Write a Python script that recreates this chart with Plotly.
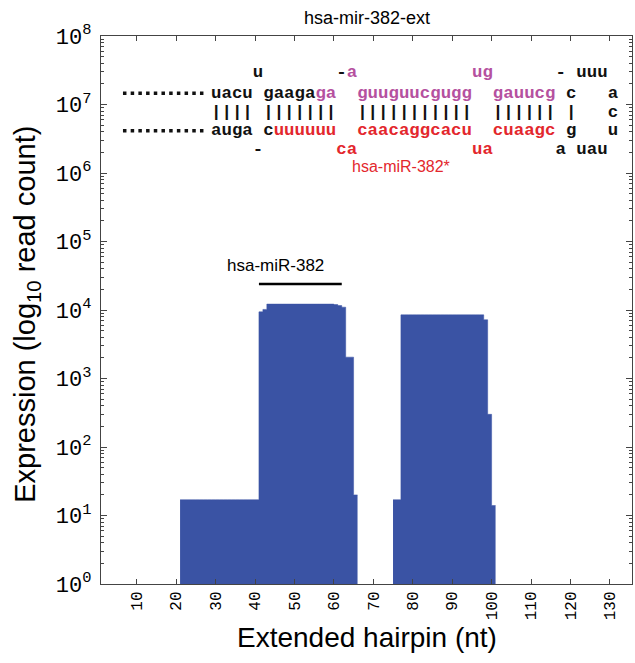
import plotly.graph_objects as go

# ---- read coverage per nucleotide of the extended hairpin ----
pos_5p = list(range(21, 66))
counts_5p = [17, 17, 17, 17, 17, 17, 17, 17, 17, 17,
             17, 17, 17, 17, 17, 17, 17, 17, 17, 17,
             9400, 10200,
             12200, 12200, 12200, 12200, 12200, 12200, 12200, 12200, 12200,
             12200, 12200, 12200, 12200, 12200, 12200, 12200, 12200,
             12000, 11600, 11000,
             2050, 2050,
             20]

pos_3p = list(range(75, 101))
counts_3p = [17, 17,
             8500, 8500, 8500, 8500, 8500, 8500, 8500, 8500, 8500, 8500, 8500,
             8500, 8500, 8500, 8500, 8500, 8500, 8500, 8500, 8500, 8500,
             7200, 300, 14]

# mature miRNA span (first and last nucleotide)
mature_name = "hsa-miR-382"
mature_span = [41, 62]
mature_level = 24000
star_name = "hsa-miR-382*"

title_text = "hsa-mir-382-ext"
x_ticks = [10, 20, 30, 40, 50, 60, 70, 80, 90, 100, 110, 120, 130]
y_exponents = [0, 1, 2, 3, 4, 5, 6, 7, 8]

# secondary structure (one string per row) and colour code per character
# k = plain, p = mature strand, r = star strand
hairpin_rows = [
    "    u       -a           ug      - uuu",
    "uacu gaagaga  guuguucgugg  gauucg c   a",
    "|||| |||||||  |||||||||||  |||||| |   c",
    "auga cuuuuuu  caacaggcacu  cuaagc g   u",
    "    -       ca           ua      a uau",
]
hairpin_colours = [
    "    k       kp           pp      k kkk",
    "kkkk kkkkkpp  ppppppppppp  pppppp k   k",
    "kkkk kkkkkkk  kkkkkkkkkkk  kkkkkk k   k",
    "kkkk krrrrrr  rrrrrrrrrrr  rrrrrr k   k",
    "    k       rr           rr      k kkk",
]

# ---- styling ----
BAR = "#3a53a4"
PALETTE = {"k": "#111111", "p": "#b5519f", "r": "#e3272d"}
MONO = "Courier New, Liberation Mono, monospace"
SANS = "Liberation Sans, Arial, Helvetica, sans-serif"
FRAME = "#444444"

fig = go.Figure()

# coverage drawn as filled steps: each nucleotide holds its count up to the next one
for xs, ys in ((pos_5p, counts_5p), (pos_3p, counts_3p)):
    step_x = xs + [xs[-1] + 1]
    step_y = ys + [ys[-1]]
    fig.add_trace(go.Scatter(
        x=step_x, y=step_y, mode="lines", line=dict(shape="hv", color=BAR, width=0.5),
        fill="tozeroy", fillcolor=BAR, showlegend=False, hoverinfo="x+y",
    ))

fig.add_trace(go.Scatter(
    x=mature_span, y=[mature_level, mature_level], mode="lines",
    line=dict(color="black", width=2.5), showlegend=False, hoverinfo="skip",
))


def coloured_row(text, mask):
    out = []
    for ch, code in zip(text, mask):
        if ch == " ":
            out.append("\u00a0")
        else:
            out.append(f"<span style='color:{PALETTE[code]}'>{ch}</span>")
    return "".join(out)


annotations = []
row_y = [0.9335, 0.8955, 0.8610, 0.8270, 0.7925]
for text, mask, yy in zip(hairpin_rows, hairpin_colours, row_y):
    annotations.append(dict(
        x=28.4, xref="x", y=yy, yref="paper", xanchor="left", yanchor="middle",
        text=coloured_row(text, mask), showarrow=False,
        font=dict(family=MONO, size=17.4, color="#111111", weight="bold"),
    ))

annotations += [
    dict(x=77.0, xref="x", y=0.7615, yref="paper", xanchor="center", yanchor="middle",
         text=star_name, showarrow=False,
         font=dict(family=SANS, size=16, color=PALETTE["r"])),
    dict(x=45.3, xref="x", y=0.5803, yref="paper", xanchor="center", yanchor="middle",
         text=mature_name, showarrow=False,
         font=dict(family=SANS, size=17, color="black")),
    dict(x=0.5, xref="paper", y=1.033, yref="paper", xanchor="center", yanchor="middle",
         text=title_text, showarrow=False,
         font=dict(family=SANS, size=18, color="black")),
    dict(x=-0.1394, xref="paper", y=0.493, yref="paper", xanchor="center", yanchor="middle",
         text="Expression (log<sub>10</sub> read count)", textangle=-90, showarrow=False,
         font=dict(family=SANS, size=29, color="black")),
    dict(x=0.5, xref="paper", y=-0.0985, yref="paper", xanchor="center", yanchor="middle",
         text="Extended hairpin (nt)",
         showarrow=False, font=dict(family=SANS, size=28, color="black")),
]

# dotted leaders in front of the paired stems
shapes = []
for yy in (row_y[1], row_y[3]):
    shapes.append(dict(
        type="line", xref="x", yref="paper", x0=6.52, x1=26.93, y0=yy, y1=yy,
        line=dict(color="#111111", width=3.5, dash="3.5px,4.2px"),
    ))

minor_vals = [k * 10 ** n for n in range(8) for k in range(2, 10)]

fig.update_layout(
    width=635, height=663,
    margin=dict(l=101, r=3, t=36, b=79),
    paper_bgcolor="white", plot_bgcolor="white",
    annotations=annotations, shapes=shapes,
    xaxis=dict(
        range=[0.95, 135.6], tickmode="array", tickvals=x_ticks,
        ticks="inside", ticklen=5, tickwidth=1, tickcolor=FRAME,
        tickangle=-90, tickfont=dict(family=MONO, size=16, color="black"),
        showline=True, linecolor=FRAME, linewidth=1.2, mirror="ticks",
        showgrid=False, zeroline=False,
    ),
    yaxis=dict(
        type="log", range=[0, 8], tickmode="array",
        tickvals=[10 ** e for e in y_exponents],
        ticktext=[f"10<sup>{e}</sup>" for e in y_exponents],
        ticks="inside", ticklen=6, tickwidth=1, tickcolor=FRAME,
        tickfont=dict(family=MONO, size=22, color="black"),
        ticklabelstandoff=4,
        minor=dict(tickmode="array", tickvals=minor_vals, ticks="inside",
                   ticklen=3, tickcolor=FRAME, showgrid=False),
        showline=True, linecolor=FRAME, linewidth=1.2, mirror="ticks",
        showgrid=False, zeroline=False,
    ),
)

fig.write_html("out.html")
